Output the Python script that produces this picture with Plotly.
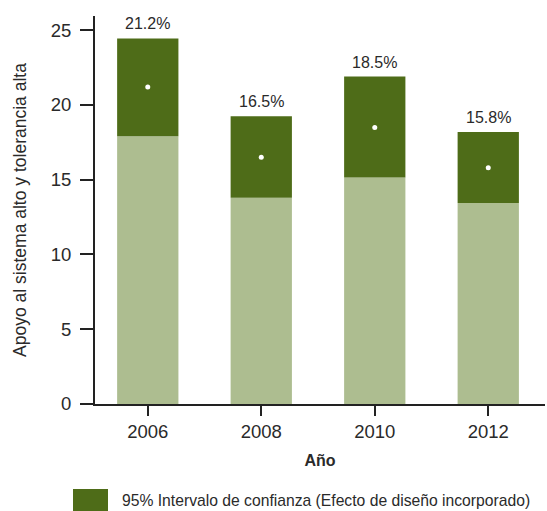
import plotly.graph_objects as go

years = [2006, 2008, 2010, 2012]
means = [21.2, 16.5, 18.5, 15.8]
lower = [17.9, 13.8, 15.15, 13.45]
upper = [24.45, 19.25, 21.9, 18.2]
labels = ["21.2%", "16.5%", "18.5%", "15.8%"]
legend_text = "95% Intervalo de confianza (Efecto de diseño incorporado)"

LIGHT = "#adbd90"
DARK = "#4e6c18"
FONT = "Liberation Sans, Arial, sans-serif"
TXT = "#2a2a2a"

fig = go.Figure()
fig.add_trace(go.Bar(x=years, y=lower, marker=dict(color=LIGHT, line=dict(width=0)),
                     width=1.08, showlegend=False, hoverinfo="skip"))
fig.add_trace(go.Bar(x=years, y=[u - l for u, l in zip(upper, lower)], base=lower,
                     marker=dict(color=DARK, line=dict(width=0)), width=1.08,
                     showlegend=False, hoverinfo="skip"))
fig.add_trace(go.Scatter(x=years, y=means, mode="markers",
                         marker=dict(color="white", size=5), showlegend=False))

for yr, up, lab in zip(years, upper, labels):
    fig.add_annotation(x=yr, y=up, text=lab, showarrow=False, yanchor="bottom",
                       yshift=4, font=dict(family=FONT, size=16, color=TXT))

fig.update_layout(
    width=547, height=511,
    margin=dict(l=95, r=2, t=16, b=107),
    paper_bgcolor="white", plot_bgcolor="white",
    barmode="overlay",
    font=dict(family=FONT, size=18, color=TXT),
    xaxis=dict(range=[2005.07, 2013.0], tickvals=years, ticktext=[str(y) for y in years],
               showgrid=False, zeroline=False, showline=True, linecolor="#222", linewidth=2,
               ticks="outside", ticklen=10, tickwidth=1.5, tickcolor="#222",
               tickfont=dict(size=18.5, color=TXT),
               title=dict(text="<b>Año</b>", font=dict(size=16, color=TXT), standoff=14)),
    yaxis=dict(range=[0, 25.95], tickvals=[0, 5, 10, 15, 20, 25],
               showgrid=False, zeroline=False, showline=True, linecolor="#222", linewidth=2,
               ticks="outside", ticklen=13, tickwidth=1.5, tickcolor="#222",
               tickfont=dict(size=18.5, color=TXT), ticklabelstandoff=5,
               title=dict(text="Apoyo al sistema alto y tolerancia alta",
                          font=dict(size=17.5, color=TXT), standoff=20)),
)

fig.add_shape(type="rect", xref="paper", yref="paper",
              x0=(73 - 95) / 450, x1=(108 - 95) / 450,
              y0=(404 - 511) / 388, y1=(404 - 489) / 388,
              fillcolor=DARK, line=dict(width=0))
fig.add_annotation(xref="paper", yref="paper", x=(120 - 95) / 450, y=(404 - 500) / 388,
                   text=legend_text, showarrow=False, xanchor="left", yanchor="middle",
                   font=dict(family=FONT, size=15.7, color=TXT))

fig.write_html("out.html", config={"displayModeBar": False},
               post_script="document.body.style.margin='0px';")
